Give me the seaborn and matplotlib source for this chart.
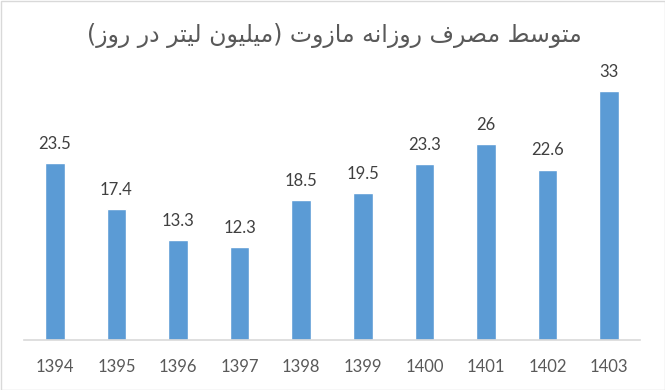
import matplotlib
matplotlib.use("Agg")
import matplotlib.pyplot as plt
import seaborn as sns
import pandas as pd

years = ['1394', '1395', '1396', '1397', '1398', '1399', '1400', '1401', '1402', '1403']
values = [23.5, 17.4, 13.3, 12.3, 18.5, 19.5, 23.3, 26, 22.6, 33]
title = "متوسط مصرف روزانه مازوت (میلیون لیتر در روز)"

# minimal Arabic/Persian shaping (presentation forms) since matplotlib has no text shaping
FORMS = {
    'ا': (0xFE8D, 0xFE8E, None, None),
    'ت': (0xFE95, 0xFE96, 0xFE97, 0xFE98),
    'د': (0xFEA9, 0xFEAA, None, None),
    'ر': (0xFEAD, 0xFEAE, None, None),
    'ز': (0xFEAF, 0xFEB0, None, None),
    'س': (0xFEB1, 0xFEB2, 0xFEB3, 0xFEB4),
    'ص': (0xFEB9, 0xFEBA, 0xFEBB, 0xFEBC),
    'ط': (0xFEC1, 0xFEC2, 0xFEC3, 0xFEC4),
    'ف': (0xFED1, 0xFED2, 0xFED3, 0xFED4),
    'ل': (0xFEDD, 0xFEDE, 0xFEDF, 0xFEE0),
    'م': (0xFEE1, 0xFEE2, 0xFEE3, 0xFEE4),
    'ن': (0xFEE5, 0xFEE6, 0xFEE7, 0xFEE8),
    'ه': (0xFEE9, 0xFEEA, 0xFEEB, 0xFEEC),
    'و': (0xFEED, 0xFEEE, None, None),
    'ی': (0xFEEF, 0xFEF0, 0xFEF3, 0xFEF4),
}


def shape_rtl(text):
    out = []
    n = len(text)
    for i, ch in enumerate(text):
        if ch not in FORMS:
            out.append(ch)
            continue
        prev = text[i - 1] if i > 0 else None
        nxt = text[i + 1] if i < n - 1 else None
        pj = prev in FORMS and FORMS[prev][2] is not None
        nj = FORMS[ch][2] is not None and nxt in FORMS
        iso, fin, ini, med = FORMS[ch]
        if pj and nj:
            cp = med
        elif pj:
            cp = fin
        elif nj:
            cp = ini
        else:
            cp = iso
        out.append(chr(cp))
    vis = ''.join(reversed(out))
    return vis.translate(str.maketrans('()', ')('))


df = pd.DataFrame({'year': years, 'value': values})

sns.set_style("white")
plt.rcParams['font.family'] = ['Lato', 'DejaVu Sans']

fig = plt.figure(figsize=(6.65, 3.9), dpi=100)
ax = fig.add_axes([24 / 665, 1 - 340 / 390, 616 / 665, 264 / 390])

sns.barplot(data=df, x='year', y='value', order=years, color='#5B9BD5',
            saturation=1, width=0.32, ax=ax)

ax.set_ylim(0, 35)
ax.set_xlim(-0.5, 9.5)
ax.set_xlabel('')
ax.set_ylabel('')
ax.set_yticks([])
for s in ['top', 'right', 'left']:
    ax.spines[s].set_visible(False)
ax.spines['bottom'].set_color('#D9D9D9')
ax.spines['bottom'].set_linewidth(1.2)
ax.tick_params(axis='x', length=0, pad=14, labelsize=12, labelcolor='#595959')

for c in ax.containers:
    ax.bar_label(c, labels=[f'{v:g}' for v in values], padding=8,
                 fontsize=12, color='#404040')

fig.text(0.503, 1 - 35 / 390, shape_rtl(title), ha='center', va='center',
         fontsize=17, color='#595959', family=['DejaVu Sans'])

border = plt.Rectangle((0.5 / 665, 0.5 / 390), 1 - 1 / 665, 1 - 1 / 390,
                       transform=fig.transFigure, fill=False,
                       edgecolor='#D9D9D9', linewidth=1)
fig.patches.append(border)

fig.savefig('out.png', dpi=100)
